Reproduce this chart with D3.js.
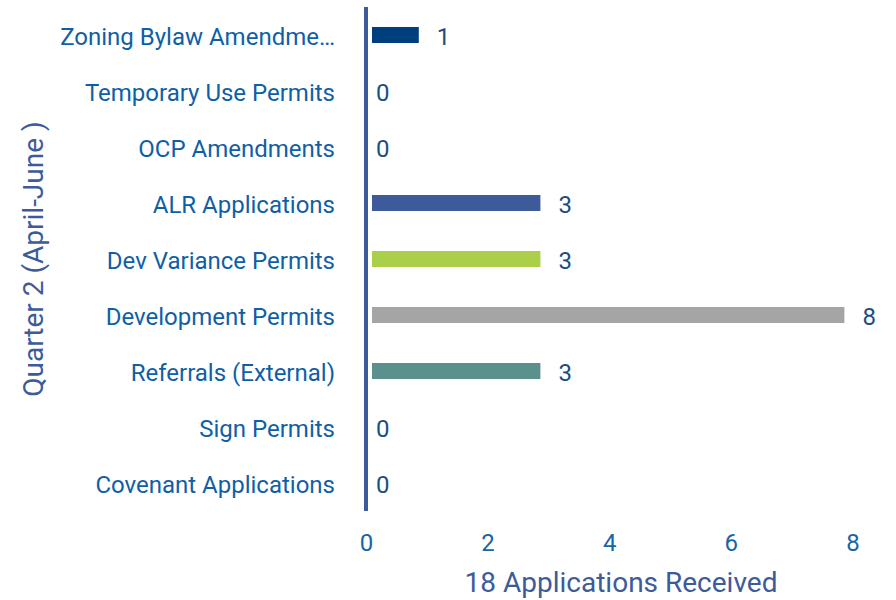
<!DOCTYPE html>
<html>
<head>
<meta charset="utf-8">
<script src="https://cdn.jsdelivr.net/npm/d3@7"></script>
<style>
  body { margin: 0; background: #fff; }
  text { font-family: Roboto, "Noto Sans", sans-serif; }
</style>
</head>
<body>
<div id="chart"></div>
<script>
// categories, top to bottom
var categories = ["Zoning Bylaw Amendments", "Temporary Use Permits", "OCP Amendments",
  "ALR Applications", "Dev Variance Permits", "Development Permits",
  "Referrals (External)", "Sign Permits", "Covenant Applications"];
var counts = [1, 0, 0, 3, 3, 8, 3, 0, 0];
var barColors = ["#003f7e", "#3d5a9b", "#3d5a9b", "#3d5a9b", "#abcf48", "#a5a5a5", "#5a918c", "#3d5a9b", "#3d5a9b"];
var xTicks = [0, 2, 4, 6, 8];
var xTitle = "18 Applications Received";
var yTitle = "Quarter 2 (April-June )";

var width = 896, height = 600;
var plot = {left: 366, right: 852.4, top: 7, bottom: 511};

var svg = d3.select("#chart").append("svg")
  .attr("width", width)
  .attr("height", height);

var x = d3.scaleLinear().domain([0, 8]).range([plot.left, plot.right]);
var y = d3.scaleBand().domain(categories).range([plot.top, plot.bottom])
  .paddingInner(0.714)
  .paddingOuter(0.357);

// bars
svg.selectAll("rect.bar")
  .data(categories)
  .enter().append("rect")
    .attr("class", "bar")
    .attr("x", x(0) + 6)
    .attr("y", function(d) { return y(d); })
    .attr("width", function(d, i) { return Math.max(0, x(counts[i]) - 8 - (x(0) + 6)); })
    .attr("height", y.bandwidth())
    .attr("fill", function(d, i) { return barColors[i]; });

// value labels
svg.selectAll("text.val")
  .data(categories)
  .enter().append("text")
    .attr("class", "val")
    .attr("x", function(d, i) { return x(counts[i]) + 10; })
    .attr("y", function(d) { return y(d) + y.bandwidth() / 2; })
    .attr("dy", "0.42em")
    .attr("font-size", 24)
    .attr("fill", "#1b4f80")
    .text(function(d, i) { return counts[i]; });

// category labels (truncated with ellipsis)
var maxW = 275;
svg.selectAll("text.cat")
  .data(categories)
  .enter().append("text")
    .attr("class", "cat")
    .attr("x", plot.left - 31)
    .attr("y", function(d) { return y(d) + y.bandwidth() / 2; })
    .attr("dy", "0.42em")
    .attr("text-anchor", "end")
    .attr("font-size", 24)
    .attr("fill", "#0f5fa6")
    .text(function(d) { return d; })
    .each(function(d) {
      var t = d3.select(this), s = d;
      while (this.getComputedTextLength() > maxW && s.length > 1) {
        s = s.slice(0, -1);
        t.text(s + "\u2026");
      }
    });

// y axis line
svg.append("line")
  .attr("x1", plot.left).attr("x2", plot.left)
  .attr("y1", plot.top).attr("y2", plot.bottom)
  .attr("stroke", "#3d5a9b")
  .attr("stroke-width", 4);

// x axis ticks
var xAxis = svg.append("g")
  .attr("transform", "translate(0," + 534 + ")")
  .call(d3.axisBottom(x).tickValues(xTicks).tickSize(0).tickPadding(0));
xAxis.select(".domain").remove();
xAxis.selectAll("text")
  .attr("font-size", 24)
  .attr("font-family", "Roboto, sans-serif")
  .attr("fill", "#1565a8");

// axis titles
svg.append("text")
  .attr("x", 621)
  .attr("y", 592)
  .attr("text-anchor", "middle")
  .attr("font-size", 28)
  .attr("fill", "#3d5a9b")
  .text(xTitle);

svg.append("text")
  .attr("transform", "translate(43," + 259 + ") rotate(-90)")
  .attr("text-anchor", "middle")
  .attr("font-size", 28)
  .attr("fill", "#3d5a9b")
  .text(yTitle);
</script>
</body>
</html>
